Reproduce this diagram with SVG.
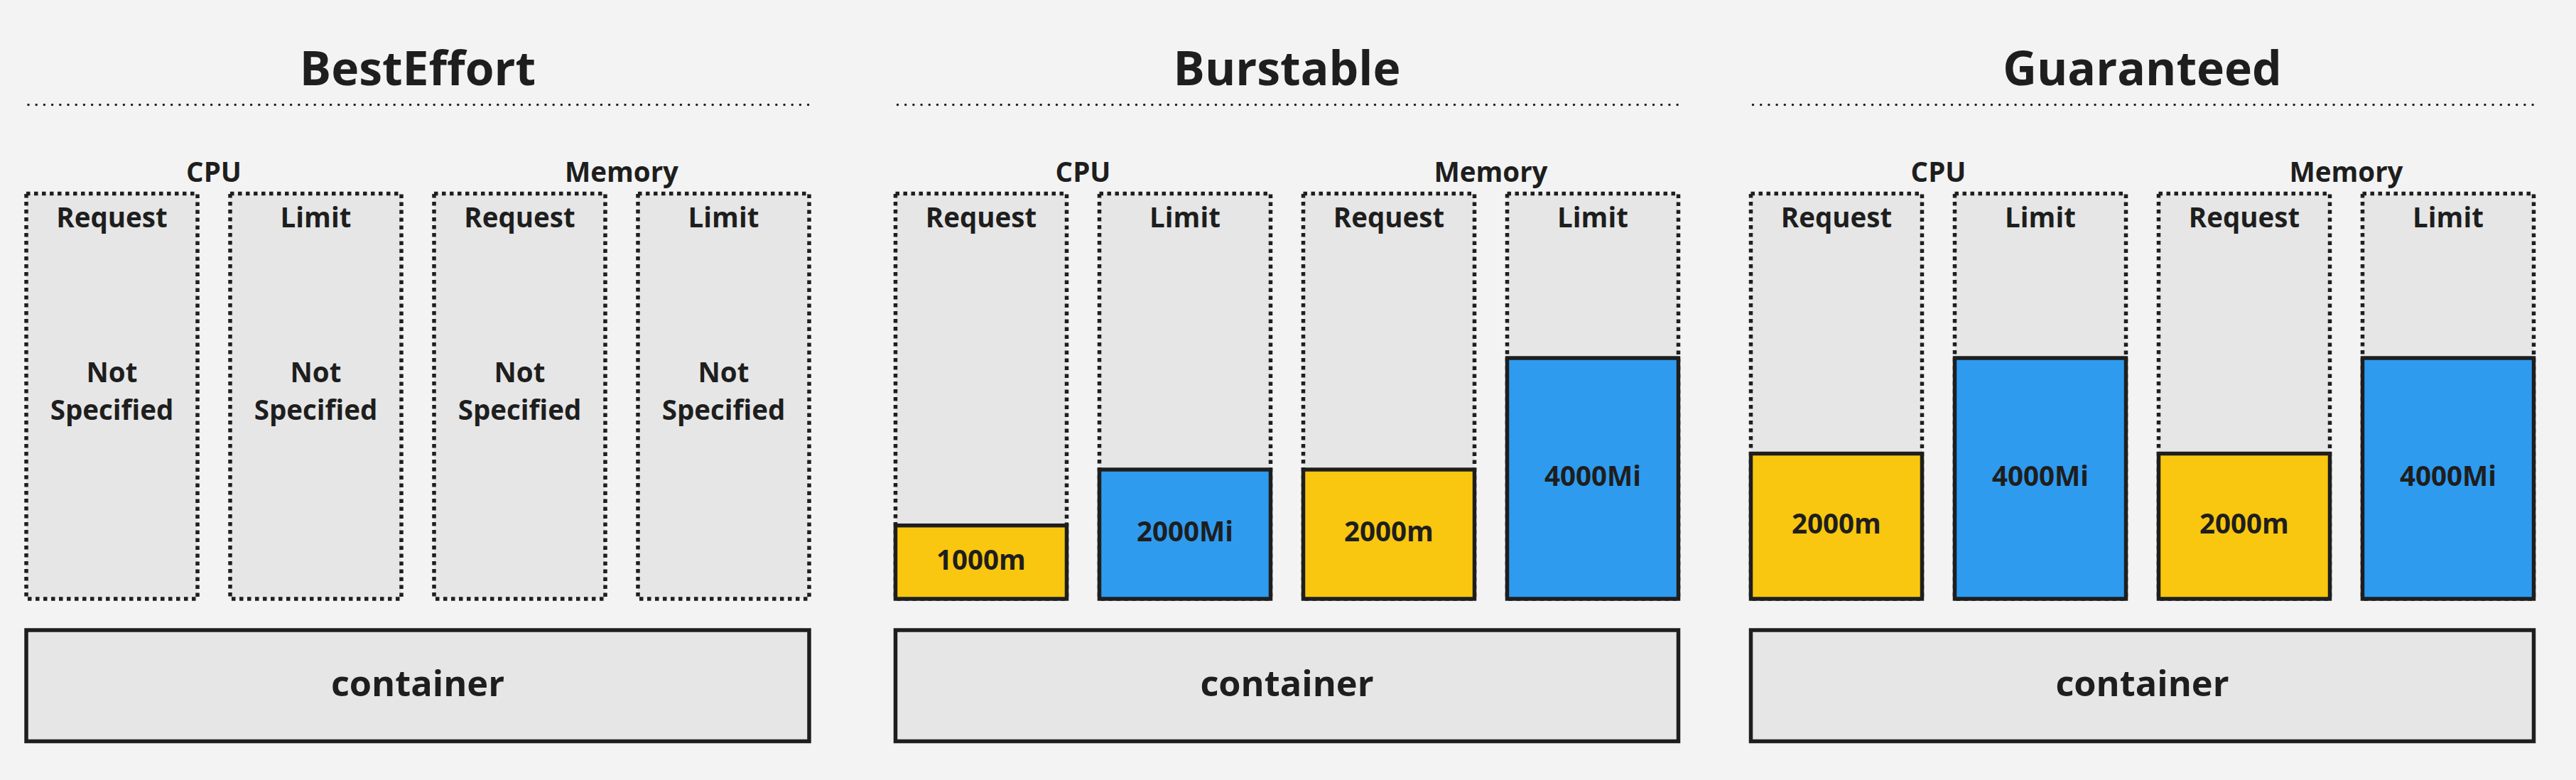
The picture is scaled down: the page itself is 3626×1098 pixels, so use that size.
<svg xmlns="http://www.w3.org/2000/svg" width="3626" height="1098" viewBox="0 0 3626 1098">
<style>
text{font-family:"Open Sans","Noto Sans","Liberation Sans",sans-serif;font-weight:700;fill:#1e1e1e;text-anchor:middle}
.title{font-size:66px}
.lbl{font-size:38.5px}
.cont{font-size:50.5px}
.rule{stroke:#1e1e1e;stroke-width:3.5;stroke-linecap:round;stroke-dasharray:0 11.2;fill:none}
.slot{fill:#e6e6e6;stroke:#1e1e1e;stroke-width:5.5;stroke-dasharray:5.5 5.5}
.ctr{fill:#e6e6e6;stroke:#1e1e1e;stroke-width:5.5}
.cpu{fill:#f9c70f;stroke:#1e1e1e;stroke-width:5.5}
.mem{fill:#2e9bef;stroke:#1e1e1e;stroke-width:5.5}
</style>
<rect x="0" y="0" width="3626" height="1098" fill="#f3f3f3"/>

<g id="besteffort">
  <text class="title" x="588" y="120">BestEffort</text>
  <line class="rule" x1="40" y1="147.5" x2="1139" y2="147.5"/>
  <text class="lbl" x="301" y="256">CPU</text>
  <text class="lbl" x="875" y="256">Memory</text>
  <g id="be-cpu-req">
    <rect class="slot" x="37" y="272.5" width="241" height="570.5"/>
    <text class="lbl" x="157.5" y="319.5">Request</text>
    <text class="lbl" x="157.5" y="537.5">Not</text>
    <text class="lbl" x="157.5" y="591">Specified</text>
  </g>
  <g id="be-cpu-lim">
    <rect class="slot" x="324" y="272.5" width="241" height="570.5"/>
    <text class="lbl" x="444.5" y="319.5">Limit</text>
    <text class="lbl" x="444.5" y="537.5">Not</text>
    <text class="lbl" x="444.5" y="591">Specified</text>
  </g>
  <g id="be-mem-req">
    <rect class="slot" x="611" y="272.5" width="241" height="570.5"/>
    <text class="lbl" x="731.5" y="319.5">Request</text>
    <text class="lbl" x="731.5" y="537.5">Not</text>
    <text class="lbl" x="731.5" y="591">Specified</text>
  </g>
  <g id="be-mem-lim">
    <rect class="slot" x="898" y="272.5" width="241" height="570.5"/>
    <text class="lbl" x="1018.5" y="319.5">Limit</text>
    <text class="lbl" x="1018.5" y="537.5">Not</text>
    <text class="lbl" x="1018.5" y="591">Specified</text>
  </g>
  <g id="be-container">
    <rect class="ctr" x="37" y="887" width="1102" height="156.5"/>
    <text class="cont" x="588" y="979.5">container</text>
  </g>
</g>

<g id="burstable">
  <text class="title" x="1811.5" y="120">Burstable</text>
  <line class="rule" x1="1263.5" y1="147.5" x2="2362.5" y2="147.5"/>
  <text class="lbl" x="1524.5" y="256">CPU</text>
  <text class="lbl" x="2098.5" y="256">Memory</text>
  <g id="bu-cpu-req">
    <rect class="slot" x="1260.5" y="272.5" width="241" height="570.5"/>
    <text class="lbl" x="1381" y="319.5">Request</text>
    <rect class="cpu" x="1260.5" y="739.7" width="241" height="103.3"/>
    <text class="lbl" x="1381" y="801.5">1000m</text>
  </g>
  <g id="bu-cpu-lim">
    <rect class="slot" x="1547.5" y="272.5" width="241" height="570.5"/>
    <text class="lbl" x="1668" y="319.5">Limit</text>
    <rect class="mem" x="1547.5" y="661" width="241" height="182"/>
    <text class="lbl" x="1668" y="762">2000Mi</text>
  </g>
  <g id="bu-mem-req">
    <rect class="slot" x="1834.5" y="272.5" width="241" height="570.5"/>
    <text class="lbl" x="1955" y="319.5">Request</text>
    <rect class="cpu" x="1834.5" y="661" width="241" height="182"/>
    <text class="lbl" x="1955" y="762">2000m</text>
  </g>
  <g id="bu-mem-lim">
    <rect class="slot" x="2121.5" y="272.5" width="241" height="570.5"/>
    <text class="lbl" x="2242" y="319.5">Limit</text>
    <rect class="mem" x="2121.5" y="504" width="241" height="339"/>
    <text class="lbl" x="2242" y="683.5">4000Mi</text>
  </g>
  <g id="bu-container">
    <rect class="ctr" x="1260.5" y="887" width="1102" height="156.5"/>
    <text class="cont" x="1811.5" y="979.5">container</text>
  </g>
</g>

<g id="guaranteed">
  <text class="title" x="3015.5" y="120">Guaranteed</text>
  <line class="rule" x1="2467.5" y1="147.5" x2="3566.5" y2="147.5"/>
  <text class="lbl" x="2728.5" y="256">CPU</text>
  <text class="lbl" x="3302.5" y="256">Memory</text>
  <g id="gu-cpu-req">
    <rect class="slot" x="2464.5" y="272.5" width="241" height="570.5"/>
    <text class="lbl" x="2585" y="319.5">Request</text>
    <rect class="cpu" x="2464.5" y="638.5" width="241" height="204.5"/>
    <text class="lbl" x="2585" y="750.5">2000m</text>
  </g>
  <g id="gu-cpu-lim">
    <rect class="slot" x="2751.5" y="272.5" width="241" height="570.5"/>
    <text class="lbl" x="2872" y="319.5">Limit</text>
    <rect class="mem" x="2751.5" y="504" width="241" height="339"/>
    <text class="lbl" x="2872" y="683.5">4000Mi</text>
  </g>
  <g id="gu-mem-req">
    <rect class="slot" x="3038.5" y="272.5" width="241" height="570.5"/>
    <text class="lbl" x="3159" y="319.5">Request</text>
    <rect class="cpu" x="3038.5" y="638.5" width="241" height="204.5"/>
    <text class="lbl" x="3159" y="750.5">2000m</text>
  </g>
  <g id="gu-mem-lim">
    <rect class="slot" x="3325.5" y="272.5" width="241" height="570.5"/>
    <text class="lbl" x="3446" y="319.5">Limit</text>
    <rect class="mem" x="3325.5" y="504" width="241" height="339"/>
    <text class="lbl" x="3446" y="683.5">4000Mi</text>
  </g>
  <g id="gu-container">
    <rect class="ctr" x="2464.5" y="887" width="1102" height="156.5"/>
    <text class="cont" x="3015.5" y="979.5">container</text>
  </g>
</g>

<g id="connectors"></g>
</svg>
